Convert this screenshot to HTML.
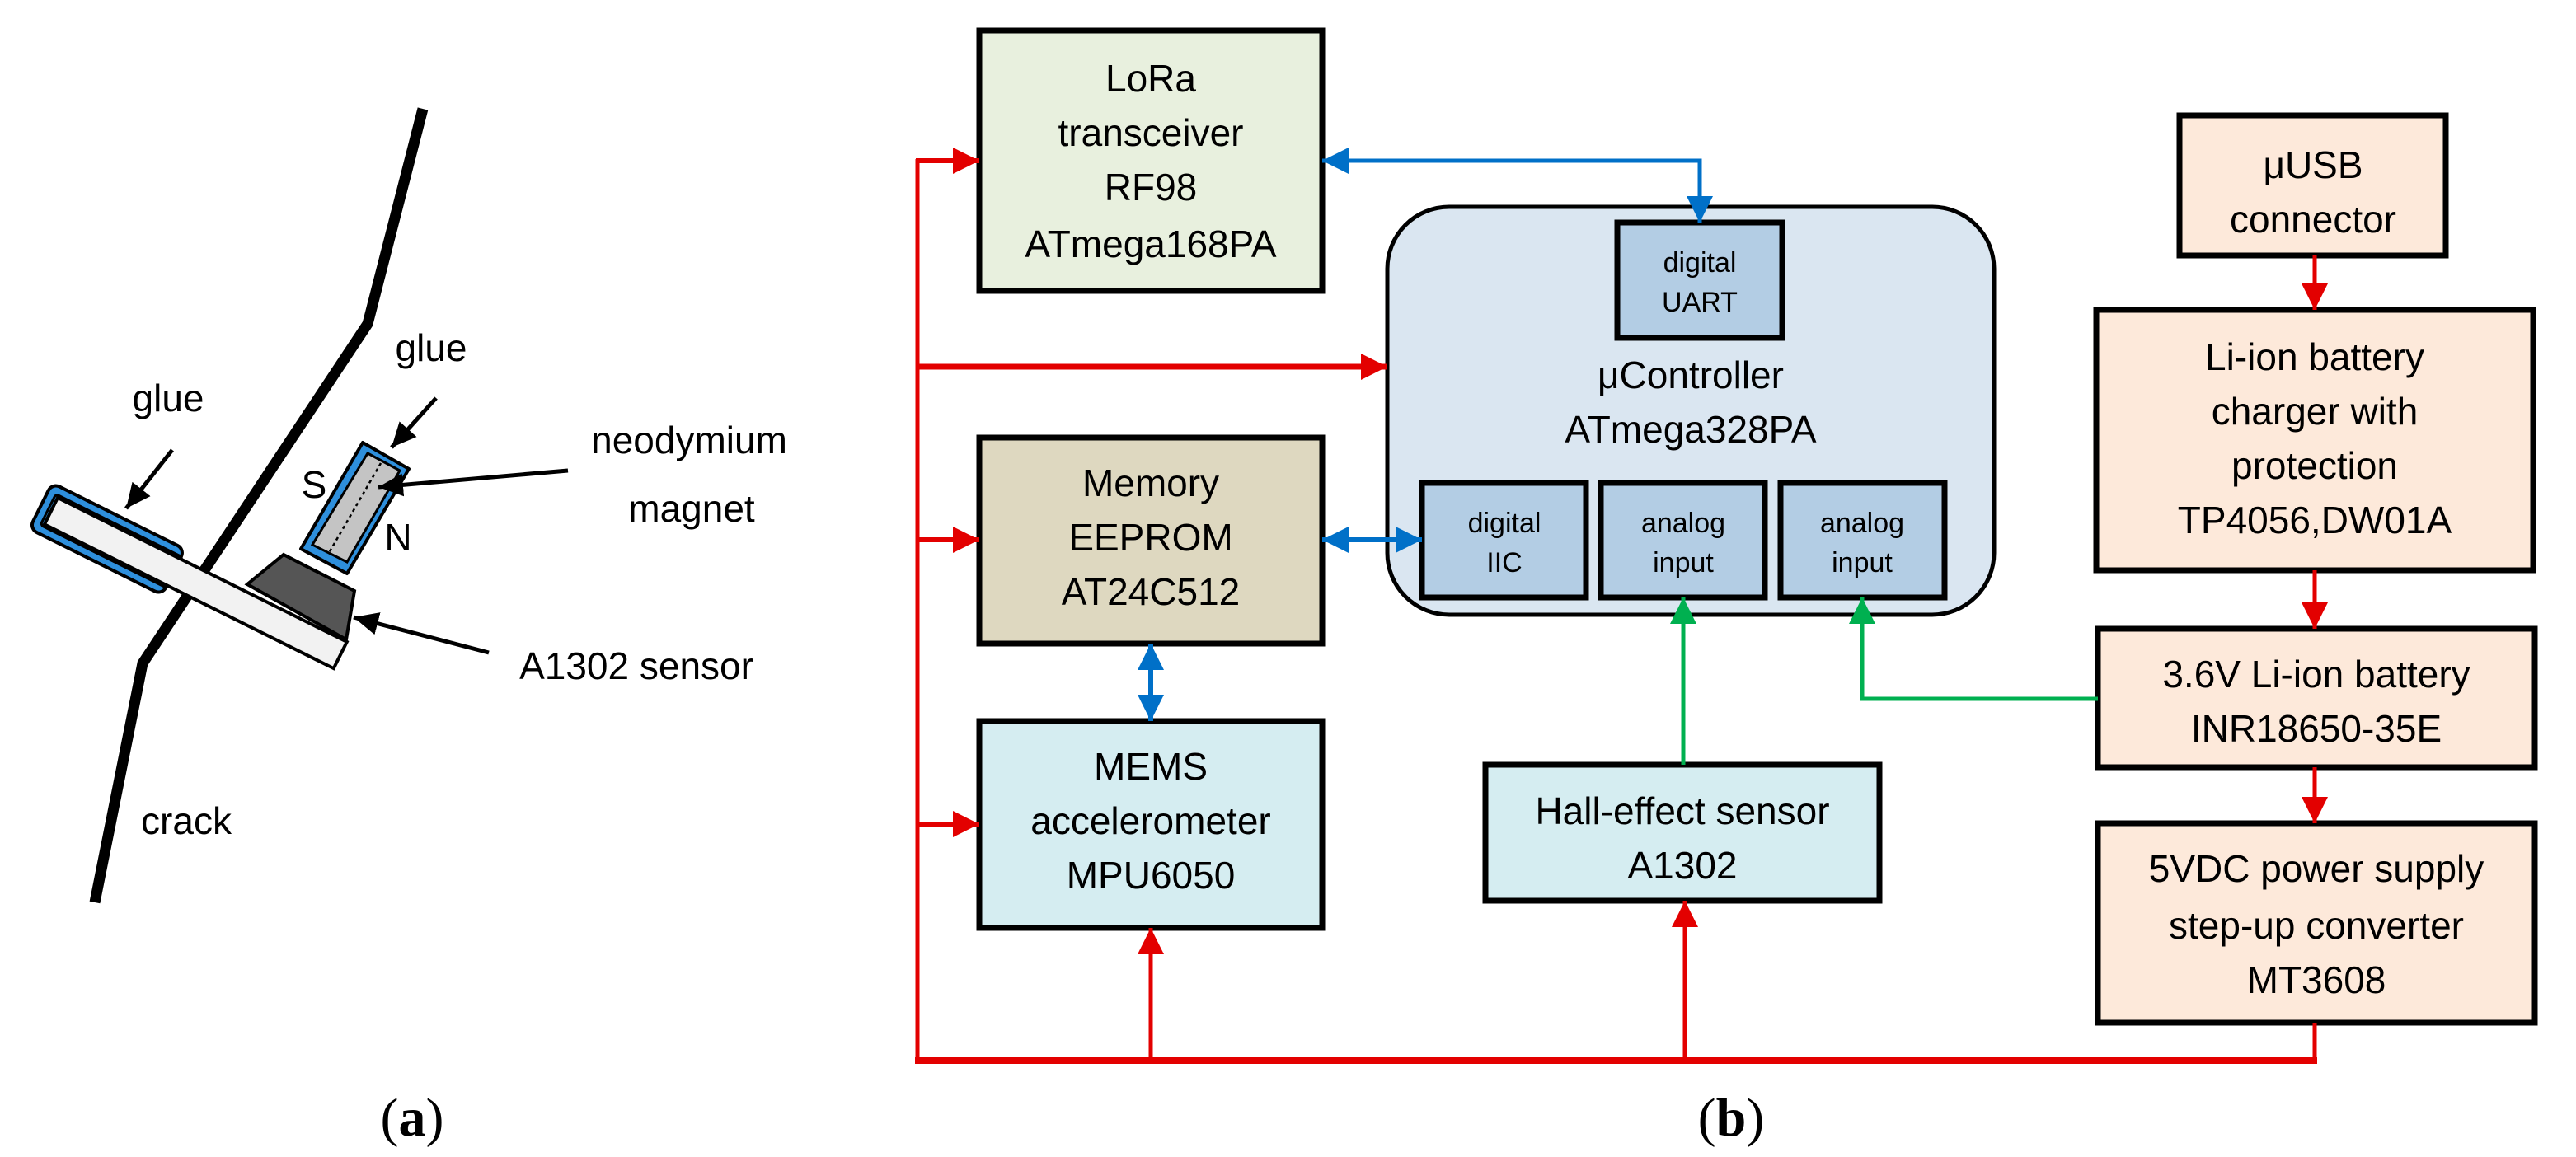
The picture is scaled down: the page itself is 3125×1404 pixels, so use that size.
<!DOCTYPE html>
<html><head><meta charset="utf-8"><style>
html,body{margin:0;padding:0;background:#fff;}
svg{display:block;}
text{font-family:"Liberation Sans",sans-serif;fill:#000;}
</style></head><body>
<svg width="3125" height="1404" viewBox="0 0 3125 1404" xmlns="http://www.w3.org/2000/svg">
<defs>
<marker id="r" markerUnits="userSpaceOnUse" markerWidth="34" markerHeight="34" refX="32" refY="16" orient="auto-start-reverse"><path d="M0,0 L32,16 L0,32 z" fill="#e30000"/></marker>
<marker id="b" markerUnits="userSpaceOnUse" markerWidth="34" markerHeight="34" refX="32" refY="16" orient="auto-start-reverse"><path d="M0,0 L32,16 L0,32 z" fill="#0070c8"/></marker>
<marker id="g" markerUnits="userSpaceOnUse" markerWidth="34" markerHeight="34" refX="32" refY="16" orient="auto-start-reverse"><path d="M0,0 L32,16 L0,32 z" fill="#00b050"/></marker>
<marker id="k" markerUnits="userSpaceOnUse" markerWidth="34" markerHeight="34" refX="30" refY="14" orient="auto"><path d="M0,0 L30,14 L0,28 z" fill="#000"/></marker>
</defs>

<!-- (a) panel -->
<polyline points="513,132 446,393 173,805 115,1095" fill="none" stroke="#000" stroke-width="13"/>
<polygon points="300,709 344,673 430,717 420,776" fill="#555" stroke="#000" stroke-width="4"/>
<g transform="translate(70,604) rotate(26.5)">
<rect x="-14" y="-13" width="180" height="62" rx="10" fill="#2e8fdc" stroke="#000" stroke-width="4"/>
<rect x="-4" y="-3" width="172" height="42" rx="4" fill="none" stroke="#000" stroke-width="3"/>
<rect x="0" y="0" width="392" height="36" fill="#f2f2f2" stroke="#000" stroke-width="4"/>
</g>
<polygon points="440,537 496,569 421,696 365,666" fill="#2e8fdc" stroke="#000" stroke-width="4" stroke-linejoin="round"/>
<polygon points="446,550 485,571 421,682 379,661" fill="#c4c4c4" stroke="#000" stroke-width="3"/>
<line x1="462" y1="562" x2="399" y2="671" stroke="#000" stroke-width="2.5" stroke-dasharray="4,4"/>
<line x1="209" y1="546" x2="153" y2="617" stroke="#000" stroke-width="5" marker-end="url(#k)"/>
<line x1="529" y1="483" x2="475" y2="543" stroke="#000" stroke-width="5" marker-end="url(#k)"/>
<line x1="689" y1="571" x2="459" y2="591" stroke="#000" stroke-width="5" marker-end="url(#k)"/>
<line x1="593" y1="792" x2="429" y2="749" stroke="#000" stroke-width="5" marker-end="url(#k)"/>
<g font-size="46" text-anchor="middle">
<text x="204" y="499">glue</text>
<text x="523" y="438">glue</text>
<text x="836" y="550">neodymium</text>
<text x="839" y="633">magnet</text>
<text x="381" y="604">S</text>
<text x="483" y="668">N</text>
<text x="772" y="824">A1302 sensor</text>
<text x="226" y="1012">crack</text>
</g>
<text x="500" y="1378" font-size="66" text-anchor="middle" style="font-family:'Liberation Serif',serif">(<tspan font-weight="bold">a</tspan>)</text>
<text x="2100" y="1378" font-size="66" text-anchor="middle" style="font-family:'Liberation Serif',serif">(<tspan font-weight="bold">b</tspan>)</text>

<!-- boxes -->
<g stroke="#000" stroke-width="7">
<rect x="1188" y="37" width="416" height="316" fill="#e8f0de"/>
<rect x="1683" y="251" width="736" height="495" rx="75" fill="#dae6f1" stroke-width="5"/>
<rect x="1962" y="270" width="200" height="140" fill="#b3cde4"/>
<rect x="1725" y="586" width="199" height="139" fill="#b3cde4"/>
<rect x="1942" y="586" width="199" height="139" fill="#b3cde4"/>
<rect x="2160" y="586" width="199" height="139" fill="#b3cde4"/>
<rect x="1188" y="531" width="416" height="250" fill="#ded8c0"/>
<rect x="1188" y="875" width="416" height="251" fill="#d5edf1"/>
<rect x="1802" y="928" width="478" height="165" fill="#d5edf1"/>
<rect x="2644" y="140" width="323" height="170" fill="#fde9da"/>
<rect x="2543" y="376" width="530" height="316" fill="#fde9da"/>
<rect x="2545" y="763" width="530" height="168" fill="#fde9da"/>
<rect x="2545" y="999" width="530" height="242" fill="#fde9da"/>
</g>

<g font-size="46" text-anchor="middle">
<text x="1396" y="111">LoRa</text>
<text x="1396" y="177">transceiver</text>
<text x="1396" y="243">RF98</text>
<text x="1396" y="312">ATmega168PA</text>
<text x="2051" y="471">μController</text>
<text x="2051" y="537">ATmega328PA</text>
<text x="1396" y="602">Memory</text>
<text x="1396" y="668">EEPROM</text>
<text x="1396" y="734">AT24C512</text>
<text x="1396" y="946">MEMS</text>
<text x="1396" y="1012">accelerometer</text>
<text x="1396" y="1078">MPU6050</text>
<text x="2041" y="1000">Hall-effect sensor</text>
<text x="2041" y="1066">A1302</text>
<text x="2806" y="216">μUSB</text>
<text x="2806" y="282">connector</text>
<text x="2808" y="449">Li-ion battery</text>
<text x="2808" y="515">charger with</text>
<text x="2808" y="581">protection</text>
<text x="2808" y="647">TP4056,DW01A</text>
<text x="2810" y="834">3.6V Li-ion battery</text>
<text x="2810" y="900">INR18650-35E</text>
<text x="2810" y="1070">5VDC power supply</text>
<text x="2810" y="1139">step-up converter</text>
<text x="2810" y="1205">MT3608</text>
</g>
<g font-size="34" text-anchor="middle">
<text x="2062" y="330">digital</text>
<text x="2062" y="378">UART</text>
<text x="1825" y="646">digital</text>
<text x="1825" y="694">IIC</text>
<text x="2042" y="646">analog</text>
<text x="2042" y="694">input</text>
<text x="2259" y="646">analog</text>
<text x="2259" y="694">input</text>
</g>

<!-- red power -->
<g stroke="#e30000" fill="none">
<line x1="1113" y1="193" x2="1113" y2="1289" stroke-width="5"/>
<line x1="1110" y1="1287" x2="2811" y2="1287" stroke-width="8"/>
<line x1="2808" y1="1241" x2="2808" y2="1287" stroke-width="5"/>
<line x1="1111" y1="195" x2="1188" y2="195" stroke-width="6" marker-end="url(#r)"/>
<line x1="1111" y1="445" x2="1683" y2="445" stroke-width="7" marker-end="url(#r)"/>
<line x1="1111" y1="655" x2="1188" y2="655" stroke-width="6" marker-end="url(#r)"/>
<line x1="1111" y1="1000" x2="1188" y2="1000" stroke-width="6" marker-end="url(#r)"/>
<line x1="1396" y1="1287" x2="1396" y2="1126" stroke-width="5" marker-end="url(#r)"/>
<line x1="2044" y1="1287" x2="2044" y2="1093" stroke-width="5" marker-end="url(#r)"/>
<line x1="2808" y1="310" x2="2808" y2="376" stroke-width="5" marker-end="url(#r)"/>
<line x1="2808" y1="692" x2="2808" y2="763" stroke-width="5" marker-end="url(#r)"/>
<line x1="2808" y1="931" x2="2808" y2="999" stroke-width="5" marker-end="url(#r)"/>
</g>
<!-- blue data -->
<g stroke="#0070c8" fill="none" stroke-width="5">
<polyline points="1604,195 2062,195 2062,270" marker-start="url(#b)" marker-end="url(#b)"/>
<line x1="1604" y1="655" x2="1725" y2="655" stroke-width="6" marker-start="url(#b)" marker-end="url(#b)"/>
<line x1="1396" y1="781" x2="1396" y2="875" stroke-width="6" marker-start="url(#b)" marker-end="url(#b)"/>
</g>
<!-- green analog -->
<g stroke="#00b050" fill="none" stroke-width="5">
<line x1="2042" y1="928" x2="2042" y2="725" marker-end="url(#g)"/>
<polyline points="2545,848 2259,848 2259,725" marker-end="url(#g)"/>
</g>
</svg>
</body></html>
